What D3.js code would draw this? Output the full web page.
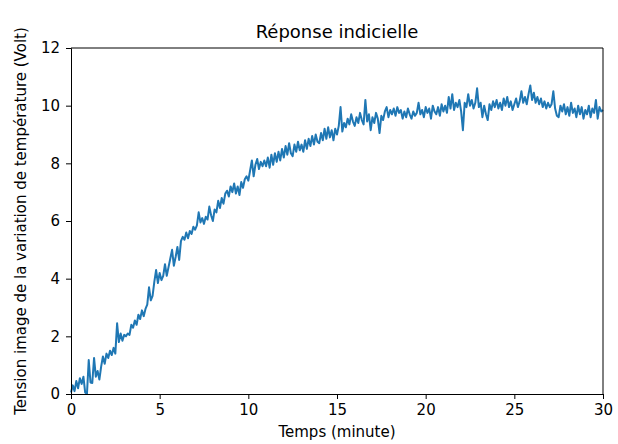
<!DOCTYPE html>
<html>
    <head>
        <meta charset="utf-8">
        <script src="https://d3js.org/d3.v7.min.js"></script>
        <style>
            body { margin: 0; background: #fff; }
            svg text { font-family: "DejaVu Sans", sans-serif; fill: #000; }
            .axis path, .axis line { stroke: #000; }
        </style>
    </head>
    <body>
        <script type="text/javascript">
            // sampling interval of the measurement (minutes)
            var timeStep = 0.1;

            // tension, one row per minute (10 samples each)
            var tension = [
                0.05, 0.30, 0.10, 0.45, 0.20, 0.55, 0.35, 0.60, 0.05, 0.00,
                1.18, 0.40, 0.38, 1.25, 0.60, 0.80, 0.50, 0.95, 1.30, 1.05,
                1.40, 1.25, 1.50, 1.35, 1.60, 1.40, 2.45, 1.80, 2.10, 1.85,
                2.05, 2.00, 2.10, 2.05, 2.40, 2.30, 2.55, 2.40, 2.75, 2.60,
                2.90, 2.70, 2.95, 3.10, 3.70, 3.25, 3.40, 3.90, 4.30, 3.85,
                4.20, 3.95, 4.10, 4.50, 4.10, 4.40, 4.70, 5.00, 4.45, 4.75,
                5.10, 4.65, 5.30, 5.45, 5.35, 5.60, 5.40, 5.65, 5.55, 5.80,
                5.70, 5.85, 6.30, 5.95, 6.10, 5.90, 6.15, 6.05, 6.50, 6.20,
                6.00, 6.40, 6.30, 6.70, 6.45, 6.80, 6.60, 6.95, 7.05, 6.85,
                7.20, 7.00, 7.30, 6.95, 7.20, 6.90, 7.35, 7.15, 7.45, 7.55,
                7.40, 7.75, 8.10, 7.55, 7.95, 8.15, 7.80, 8.05, 7.90, 8.10,
                7.90, 8.20, 7.85, 8.30, 7.95, 8.35, 8.05, 8.40, 8.10, 8.50,
                8.20, 8.60, 8.30, 8.70, 8.35, 8.25, 8.65, 8.40, 8.75, 8.45,
                8.65, 8.40, 8.80, 8.50, 8.85, 8.60, 8.95, 8.65, 9.00, 8.75,
                8.70, 9.05, 8.80, 9.20, 8.85, 9.25, 8.90, 9.15, 8.80, 9.20,
                9.00, 9.30, 9.95, 9.10, 9.40, 9.25, 9.55, 9.35, 9.70, 9.45,
                9.30, 9.60, 9.40, 9.75, 9.50, 9.35, 10.20, 9.45, 9.70, 9.15,
                9.60, 9.40, 9.75, 9.55, 9.05, 9.65, 9.50, 9.80, 9.95, 9.60,
                9.85, 9.70, 9.90, 9.65, 9.95, 9.75, 9.85, 9.55, 9.80, 9.60,
                9.90, 9.70, 9.55, 9.80, 9.65, 9.75, 10.10, 9.70, 9.85, 9.60,
                9.95, 9.75, 9.90, 9.55, 10.00, 9.80, 9.70, 9.95, 9.65, 10.05,
                9.80, 10.00, 9.75, 10.30, 9.90, 10.40, 9.85, 10.10, 9.95, 10.20,
                9.80, 9.15, 10.10, 9.95, 10.40, 10.00, 10.20, 9.90, 10.10, 10.60,
                9.95, 10.10, 9.60, 10.00, 9.70, 9.50, 10.05, 9.85, 10.15, 9.95,
                10.20, 9.90, 10.10, 9.85, 10.25, 10.00, 10.30, 9.95, 10.15, 9.85,
                10.05, 10.25, 9.95, 10.15, 10.50, 10.10, 10.30, 10.05, 10.40, 10.70,
                10.20, 10.45, 10.10, 10.30, 10.05, 10.25, 9.95, 10.15, 9.90, 10.10,
                9.95, 10.05, 10.50, 9.90, 9.65, 9.60, 10.00, 9.80, 10.05, 9.70,
                9.95, 9.65, 10.10, 9.75, 9.90, 9.60, 10.00, 9.70, 9.95, 9.55,
                9.85, 9.70, 10.00, 9.60, 9.90, 9.75, 10.20, 9.55, 9.95, 9.80,
                9.85
            ];

            var xTicks = [0, 5, 10, 15, 20, 25, 30];
            var yTicks = [0, 2, 4, 6, 8, 10, 12];

            var titleText = "Réponse indicielle";
            var xLabel = "Temps (minute)";
            var yLabel = "Tension image de la variation de température (Volt)";

            var width = 618, height = 444;
            var margin = {top: 48, right: 15, bottom: 50, left: 71};

            var svg = d3.select("body").append("svg")
                .attr("width", width)
                .attr("height", height);

            var x = d3.scaleLinear().domain([0, 30])
                .range([margin.left, width - margin.right]);
            var y = d3.scaleLinear().domain([0, 12])
                .range([height - margin.bottom, margin.top]);

            var points = tension.map(function(v, i) {
                return {t: i * timeStep, v: v};
            });

            // courbe
            var line = d3.line()
                .x(function(d) { return x(d.t); })
                .y(function(d) { return y(d.v); });

            svg.append("path")
                .datum(points)
                .attr("fill", "none")
                .attr("stroke", "#1f77b4")
                .attr("stroke-width", 2)
                .attr("stroke-linejoin", "round")
                .attr("d", line);

            // axes
            var xAxis = svg.append("g")
                .attr("class", "axis")
                .attr("transform", "translate(0," + y(0) + ")")
                .call(d3.axisBottom(x).tickValues(xTicks).tickSize(5).tickPadding(5));
            xAxis.selectAll("text").style("font-size", "15px");

            var yAxis = svg.append("g")
                .attr("class", "axis")
                .attr("transform", "translate(" + x(0) + ",0)")
                .call(d3.axisLeft(y).tickValues(yTicks).tickSize(5).tickPadding(6));
            yAxis.selectAll("text").style("font-size", "15px");

            // cadre haut et droite
            svg.append("line")
                .attr("x1", x(0)).attr("x2", x(30))
                .attr("y1", y(12)).attr("y2", y(12))
                .attr("stroke", "#000");
            svg.append("line")
                .attr("x1", x(30)).attr("x2", x(30))
                .attr("y1", y(0)).attr("y2", y(12))
                .attr("stroke", "#000");

            // textes
            svg.append("text")
                .attr("x", (x(0) + x(30)) / 2)
                .attr("y", 38)
                .attr("text-anchor", "middle")
                .style("font-size", "18px")
                .text(titleText);

            svg.append("text")
                .attr("x", (x(0) + x(30)) / 2)
                .attr("y", 437)
                .attr("text-anchor", "middle")
                .style("font-size", "15px")
                .text(xLabel);

            svg.append("text")
                .attr("transform", "translate(26," + (y(0) + y(12)) / 2 + ") rotate(-90)")
                .attr("text-anchor", "middle")
                .style("font-size", "15px")
                .text(yLabel);
        </script>
    </body>
</html>
